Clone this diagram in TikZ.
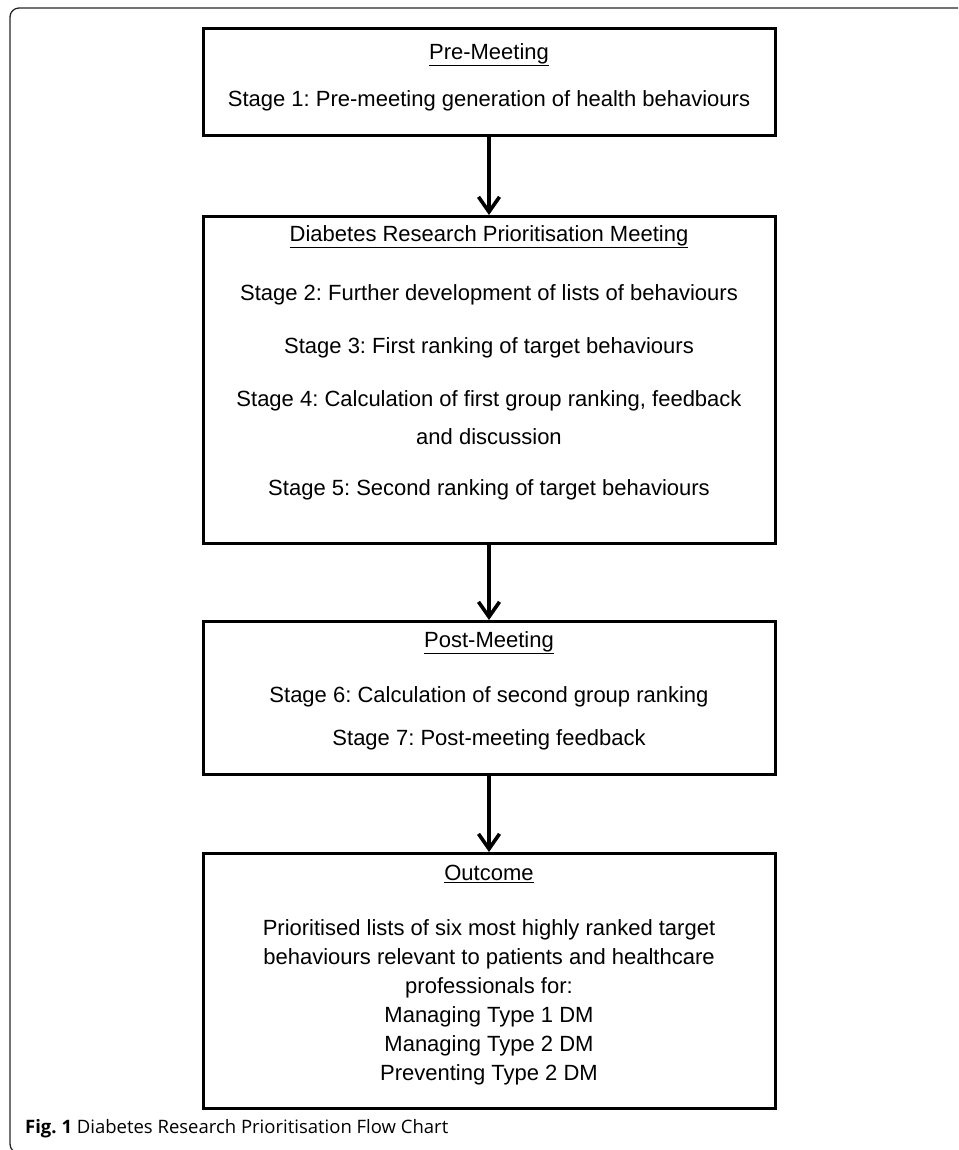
\documentclass[tikz,border=0pt]{standalone}
\usepackage{fontspec}
\setmainfont{Liberation Sans}
\newfontfamily\capfont{Open Sans}
\usetikzlibrary{arrows.meta}
\frenchspacing
\begin{document}
\begin{tikzpicture}[x=1pt,y=-1pt,
 stagebox/.style={draw,line width=3pt,minimum width=572pt,anchor=north,inner sep=0pt},
 txt/.style={font=\fontsize{22}{26}\selectfont,inner sep=0pt,anchor=center},
 arr/.style={line width=3.6pt,-{Straight Barb[length=15pt,width=21pt,line width=3.6pt]}},
 frame/.style={line width=1.3pt,rounded corners=9pt,black!85},
 captxt/.style={anchor=west,inner sep=0pt,font=\capfont\fontsize{18.5}{22}\selectfont}
]
\useasboundingbox (0,0) rectangle (958,1150);
\begin{scope}
\clip (0,0) rectangle (958,1150);
\draw[frame] (962,8) -- (10,8) -- (10,1153) -- (40,1153);
\end{scope}

\node[stagebox,minimum height=107pt] (b1) at (489,27) {};
\node[stagebox,minimum height=327pt] (b2) at (489,215) {};
\node[stagebox,minimum height=153pt] (b3) at (489,620) {};
\node[stagebox,minimum height=255pt] (b4) at (489,852) {};

\node[txt] (h1) at (489,55) {\underline{Pre-Meeting}};
\node[txt] (s1) at (489,101) {Stage 1: Pre-meeting generation of health behaviours};

\node[txt] (h2) at (489,237) {\underline{Diabetes Research Prioritisation Meeting}};
\node[txt] (s2) at (489,295) {Stage 2: Further development of lists of behaviours};
\node[txt] (s3) at (489,348) {Stage 3: First ranking of target behaviours};
\node[txt] (s4a) at (489,401) {Stage 4: Calculation of first group ranking, feedback};
\node[txt] (s4b) at (489,437) {and discussion};
\node[txt] (s5) at (489,490) {Stage 5: Second ranking of target behaviours};

\node[txt] (h3) at (489,643) {\underline{Post-Meeting}};
\node[txt] (s6) at (489,697) {Stage 6: Calculation of second group ranking};
\node[txt] (s7) at (489,740) {Stage 7: Post-meeting feedback};

\node[txt] (h4) at (489,874) {\underline{Outcome}};
\node[txt] (o1) at (489,930) {Prioritised lists of six most highly ranked target};
\node[txt] (o2) at (489,959) {behaviours relevant to patients and healthcare};
\node[txt] (o3) at (489,988) {professionals for:};
\node[txt] (o4) at (489,1017) {Managing Type 1 DM};
\node[txt] (o5) at (489,1046) {Managing Type 2 DM};
\node[txt] (o6) at (489,1075) {Preventing Type 2 DM};

\draw[arr] (b1.south) -- (b2.north);
\draw[arr] (b2.south) -- (b3.north);
\draw[arr] (b3.south) -- (b4.north);

\node[captxt] (cap) at (25,1129) {\textbf{Fig. 1} Diabetes Research Prioritisation Flow Chart};
\end{tikzpicture}
\end{document}
